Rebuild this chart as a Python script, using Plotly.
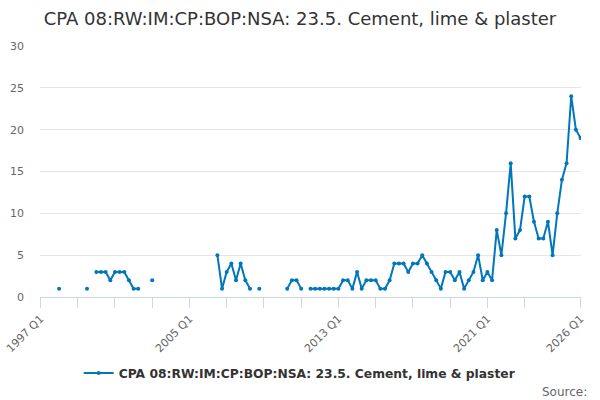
import plotly.graph_objects as go

# Quarterly categories 1997 Q1 .. 2026 Q1
quarters = [f"{y} Q{q}" for y in range(1997, 2027) for q in range(1, 5)][:117]

# Values by quarter index (None = no data)
values = [None] * 117
known = {
    4: 1, 10: 1,
    12: 3, 13: 3, 14: 3, 15: 2, 16: 3, 17: 3, 18: 3, 19: 2, 20: 1, 21: 1,
    24: 2,
    38: 5, 39: 1, 40: 3, 41: 4, 42: 2, 43: 4, 44: 2, 45: 1,
    47: 1,
    53: 1, 54: 2, 55: 2, 56: 1,
    58: 1, 59: 1, 60: 1, 61: 1, 62: 1, 63: 1, 64: 1,
    65: 2, 66: 2, 67: 1, 68: 3, 69: 1, 70: 2, 71: 2, 72: 2, 73: 1, 74: 1,
    75: 2, 76: 4, 77: 4, 78: 4, 79: 3, 80: 4, 81: 4, 82: 5, 83: 4, 84: 3,
    85: 2, 86: 1, 87: 3, 88: 3, 89: 2, 90: 3, 91: 1, 92: 2, 93: 3, 94: 5,
    95: 2, 96: 3, 97: 2, 98: 8, 99: 5, 100: 10, 101: 16, 102: 7, 103: 8,
    104: 12, 105: 12, 106: 9, 107: 7, 108: 7, 109: 9, 110: 5, 111: 10,
    112: 14, 113: 16, 114: 24, 115: 20, 116: 19,
}
for k, v in known.items():
    values[k] = v

tick_idx = list(range(0, 105, 8)) + [116]
label_idx = [0, 32, 64, 96, 116]
tick_vals = [quarters[i] for i in tick_idx]
tick_text = [quarters[i] if i in label_idx else "" for i in tick_idx]

y_ticks = [0, 5, 10, 15, 20, 25, 30]

series_name = "CPA 08:RW:IM:CP:BOP:NSA: 23.5. Cement, lime & plaster"

fig = go.Figure()
fig.add_trace(go.Scatter(
    x=quarters, y=values, mode="lines+markers",
    name="<b>" + series_name + "</b>",
    line=dict(color="#0077bb", width=2),
    marker=dict(color="#0077bb", size=4),
    connectgaps=False,
))

fig.update_layout(
    width=600, height=400,
    margin=dict(l=40, r=19, t=46, b=103),
    paper_bgcolor="white", plot_bgcolor="white",
    font=dict(family="DejaVu Sans", color="#666666", size=11),
    title=dict(text=series_name, x=0.5, xanchor="center", y=0.953, yanchor="middle",
               font=dict(family="DejaVu Sans", size=18, color="#333333")),
    showlegend=True,
    legend=dict(orientation="h", x=0.48, xanchor="center", y=-0.303, yanchor="middle",
                font=dict(family="DejaVu Sans", size=12.3, color="#333333")),
    xaxis=dict(
        type="category", categoryorder="array", categoryarray=quarters,
        range=[-0.1, 116.1], automargin=False,
        tickmode="array", tickvals=tick_vals, ticktext=tick_text,
        tickangle=-45, ticks="outside", ticklen=10, tickcolor="#ccd6eb",
        showline=True, linecolor="#ccd6eb", linewidth=1,
        showgrid=False, zeroline=False,
        tickfont=dict(size=11, color="#666666"),
    ),
    yaxis=dict(
        range=[0, 30], tickvals=y_ticks, automargin=False,
        showgrid=True, gridcolor="#e6e6e6", gridwidth=1,
        zeroline=False, showline=False,
        tickfont=dict(size=11, color="#666666"),
        ticklabelstandoff=15,
    ),
)

fig.add_annotation(text="Source:", xref="paper", yref="paper", x=1.0148, y=-0.378,
                   xanchor="right", yanchor="middle", showarrow=False,
                   font=dict(family="DejaVu Sans", size=12, color="#666666"))

fig.write_html("out.html", config={"displayModeBar": False},
               post_script="document.body.style.margin='0';")
